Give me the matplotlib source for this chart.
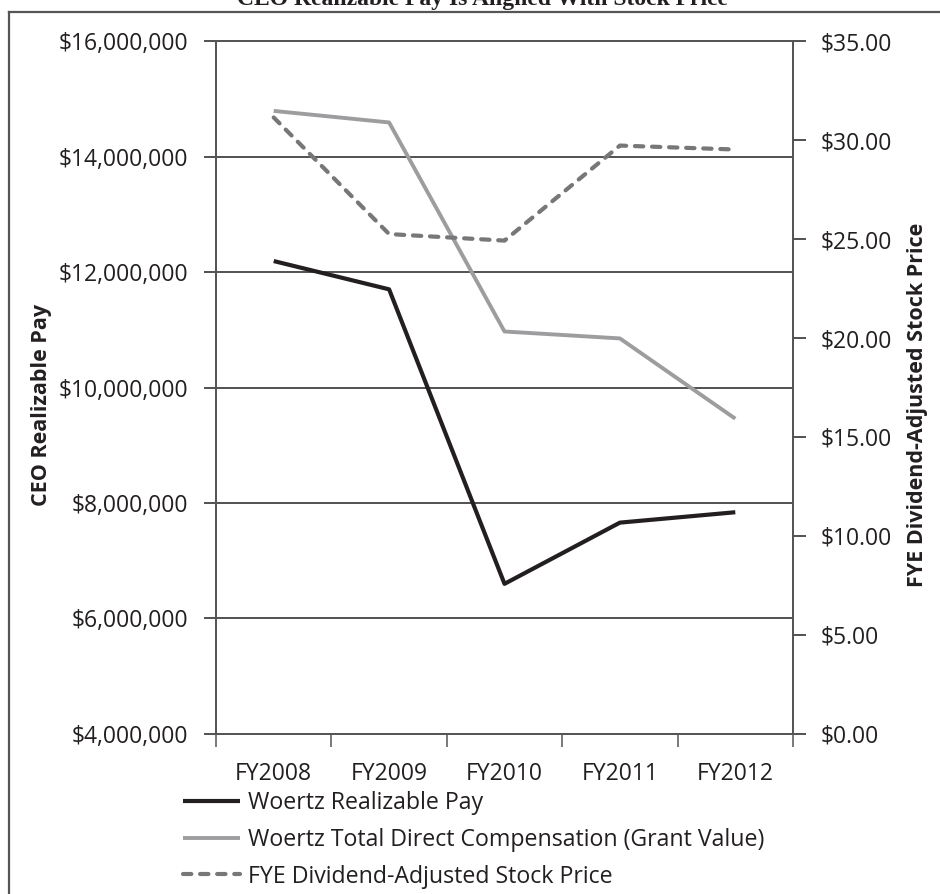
import matplotlib
matplotlib.use("Agg")
import matplotlib.pyplot as plt
from matplotlib.lines import Line2D
from matplotlib.ticker import FixedLocator, FuncFormatter

plt.rcParams['font.family'] = ['Open Sans', 'DejaVu Sans']

# values
years = ["FY2008", "FY2009", "FY2010", "FY2011", "FY2012"]
realizable_pay = [12190000, 11700000, 6600000, 7660000, 7840000]
total_direct_comp = [14790000, 14590000, 10970000, 10850000, 9460000]
stock_price = [31.14, 25.25, 24.92, 29.72, 29.52]

pay_ticks = [4000000, 6000000, 8000000, 10000000, 12000000, 14000000, 16000000]
price_ticks = [0, 5, 10, 15, 20, 25, 30, 35]

text_color = '#231f20'
spine_color = '#555555'
tick_size = 16.5

fig = plt.figure(figsize=(9.4, 8.94), dpi=100)
ax = fig.add_axes([0.2298, 0.179, 0.6138, 0.7751])
ax2 = ax.twinx()

x = list(range(len(years)))

l1, = ax.plot(x, realizable_pay, color='#231f20', lw=3.0, solid_capstyle='butt',
              label='Woertz Realizable Pay', zorder=4)
l2, = ax.plot(x, total_direct_comp, color='#9d9da0', lw=2.8, solid_capstyle='butt',
              label='Woertz Total Direct Compensation (Grant Value)', zorder=3)
l3, = ax2.plot(x, stock_price, color='#77777a', lw=3.0, dashes=(2.0, 2.1),
               dash_capstyle='round', label='FYE Dividend-Adjusted Stock Price', zorder=3)

# left axis
ax.set_xlim(-0.5, len(years) - 0.5)
ax.set_ylim(pay_ticks[0], pay_ticks[-1])
ax.yaxis.set_major_locator(FixedLocator(pay_ticks))
ax.yaxis.set_major_formatter(FuncFormatter(lambda v, p: '${:,.0f}'.format(v)))
ax.grid(axis='y', color='#222222', lw=1.1)
ax.set_axisbelow(True)

# right axis
ax2.set_ylim(price_ticks[0], price_ticks[-1])
ax2.yaxis.set_major_locator(FixedLocator(price_ticks))
ax2.yaxis.set_major_formatter(FuncFormatter(lambda v, p: '${:.2f}'.format(v)))

# category axis: ticks at boundaries, labels at centres
ax.xaxis.set_major_locator(FixedLocator([i - 0.5 for i in range(len(years) + 1)]))
ax.xaxis.set_major_formatter(FuncFormatter(lambda v, p: ''))
ax.xaxis.set_minor_locator(FixedLocator(x))
ax.set_xticklabels(years, minor=True)
ax.tick_params(axis='x', which='minor', length=0, pad=20, labelsize=tick_size, labelcolor=text_color)
ax.tick_params(axis='x', which='major', length=9, width=1.1, color=spine_color, direction='out')
ax.tick_params(axis='y', length=9, width=1.1, color='#222222', pad=11,
               labelsize=tick_size, labelcolor=text_color)
ax2.tick_params(axis='y', length=9, width=1.1, color='#222222', pad=11,
                labelsize=tick_size, labelcolor=text_color)

for a in (ax, ax2):
    for s in a.spines.values():
        s.set_color(spine_color)
        s.set_linewidth(1.3)

# axis titles as figure text so they sit where the source has them
fig.text(42 / 940, 1 - 405 / 894, 'CEO Realizable Pay', rotation=90, ha='center', va='center',
         fontsize=15.5, fontweight='bold', color=text_color)
fig.text(918 / 940, 1 - 405 / 894, 'FYE Dividend-Adjusted Stock Price', rotation=90,
         ha='center', va='center', fontsize=15.5, fontweight='bold', color=text_color)

fig.legend(handles=[l1, l2, l3], loc='upper left', bbox_to_anchor=(183 / 940, 1 - 791 / 894),
           frameon=False, fontsize=16.7, handlelength=2.45, handletextpad=0.35,
           labelspacing=0.55, borderpad=0, borderaxespad=0, labelcolor=text_color)

# title, clipped by the top edge like the source
fig.text(482 / 940, 1 - 5 / 894, 'CEO Realizable Pay Is Aligned With Stock Price',
         ha='center', va='baseline', fontsize=17, fontweight='bold',
         family=['Liberation Serif', 'DejaVu Serif'], color=text_color)

# frame on the left and top only
fig.add_artist(Line2D([9 / 940, 9 / 940], [0, 1 - 12 / 894], transform=fig.transFigure,
                      color=spine_color, lw=1.6))
fig.add_artist(Line2D([9 / 940, 1], [1 - 12 / 894, 1 - 12 / 894], transform=fig.transFigure,
                      color=spine_color, lw=1.6))

fig.savefig('out.png', dpi=100)
